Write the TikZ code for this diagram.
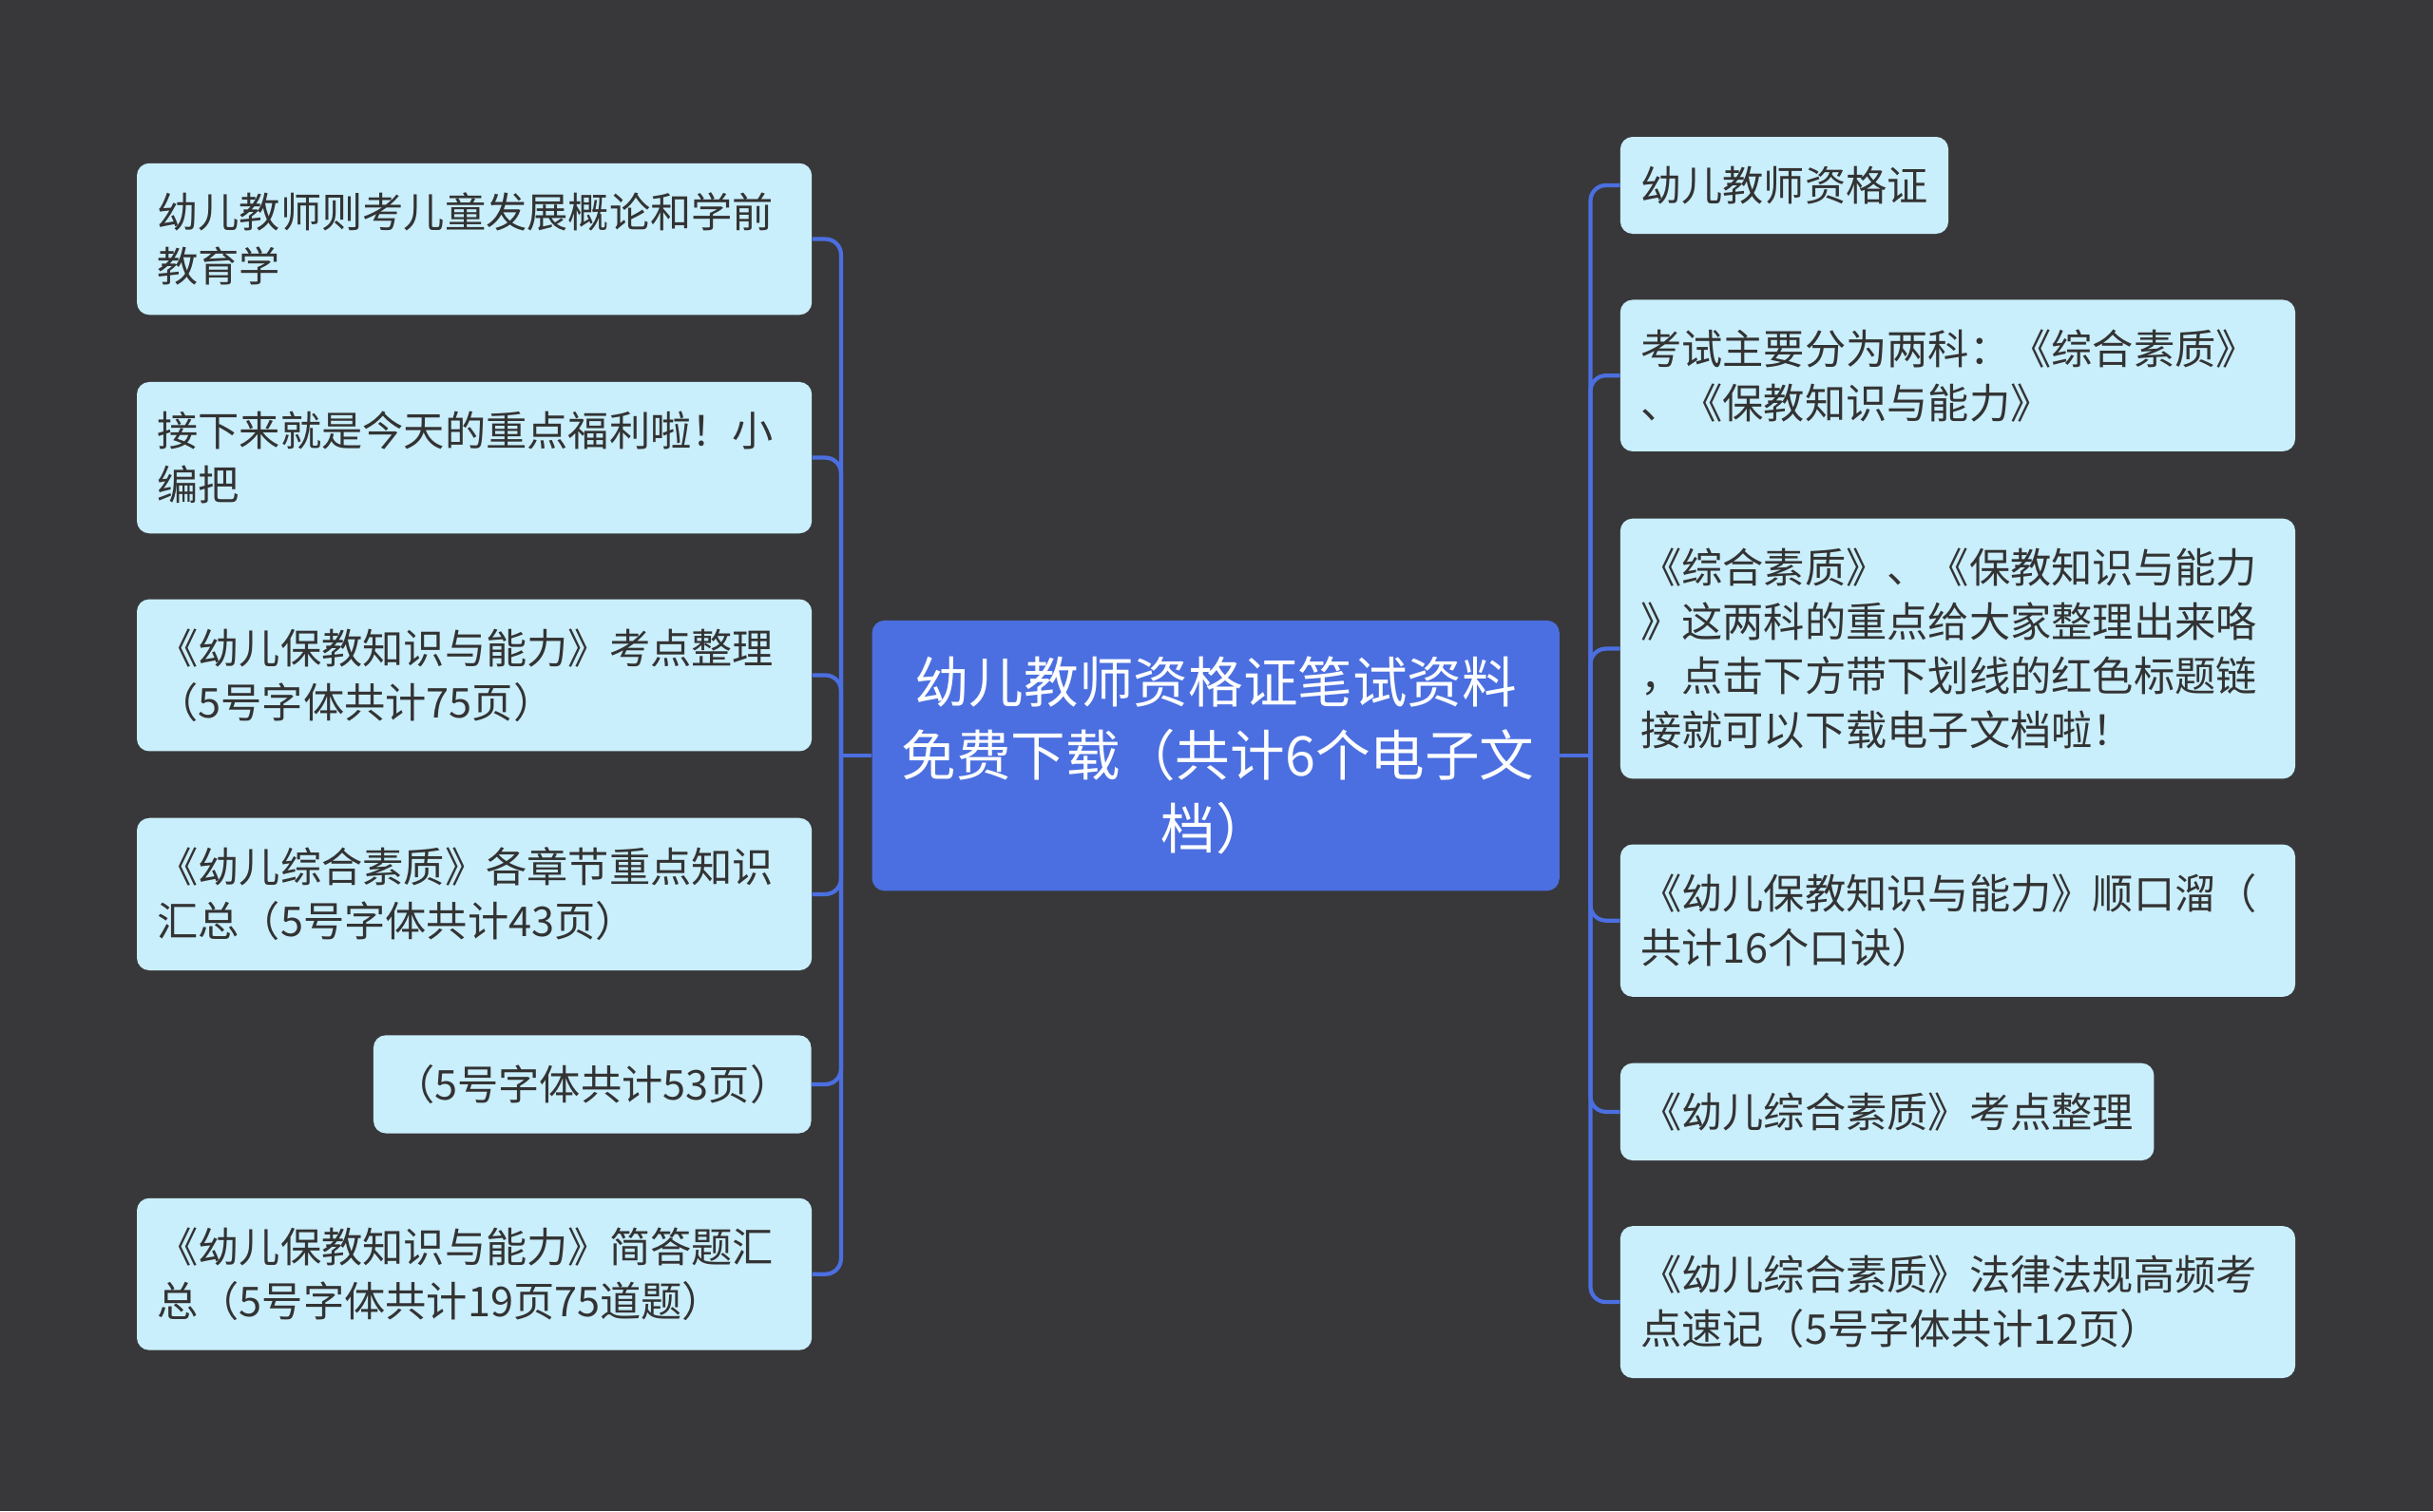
\documentclass[tikz,border=0pt]{standalone}
\usepackage{fontspec}
\setmainfont{Noto Sans CJK SC}
\usepackage{xcolor}
\usepackage{tikz}

\definecolor{bgdark}{HTML}{38383A}
\definecolor{rootblue}{HTML}{4B6FE0}
\definecolor{leafcyan}{HTML}{C9EEFC}
\definecolor{leaftext}{HTML}{333333}

\begin{document}
\begin{tikzpicture}[x=1pt, y=-1pt,
  root/.style={fill=rootblue, rounded corners=8pt, text=white, align=center,
               text width=405pt, inner xsep=19pt, inner ysep=23.5pt,
               font=\fontsize{35.3}{47}\selectfont},
  leaf/.style={fill=leafcyan, rounded corners=8pt, text=leaftext, align=left,
               inner xsep=13pt, inner ysep=19pt, anchor=north west,
               font=\fontsize{26.5}{35}\selectfont},
  wide/.style={text width=409pt},
  link/.style={draw=rootblue, line width=2.6pt, rounded corners=10pt}
]
  \fill[bgdark] (0,0) rectangle (1568,974);

  \node[root] (root) at (783.5,487) {幼儿教师资格证笔试资料\\免费下载（共计6个电子文\\档）};

  % left side
  \node[leaf, wide] (l1) at (88,105) {幼儿教师则考儿童发展概论和学前\\教育学};
  \node[leaf, wide] (l2) at (88,246) {接下来就是今天的重点福利啦！小\\编把};
  \node[leaf, wide] (l3) at (88,386) {《幼儿保教知识与能力》考点整理\\（5号字体共计75页）};
  \node[leaf, wide] (l4) at (88,527) {《幼儿综合素质》各章节重点知识\\汇总（5号字体共计43页）};
  \node[leaf, anchor=north east] (l5) at (523,667) {（5号字体共计53页）};
  \node[leaf, wide] (l6) at (88,772) {《幼儿保教知识与能力》简答题汇\\总（5号字体共计19页75道题）};

  % right side
  \node[leaf] (r1) at (1044,88) {幼儿教师资格证};
  \node[leaf, wide] (r2) at (1044,193) {考试主要分为两科：《综合素质》\\、《保教知识与能力》};
  \node[leaf, wide] (r3) at (1044,334) {《综合素质》、《保教知识与能力\\》这两科的重点给大家整理出来咯\\，点击下方带下划线的红色标题链\\接就可以下载电子文档啦！};
  \node[leaf, wide] (r4) at (1044,544) {《幼儿保教知识与能力》顺口溜（\\共计16个口诀）};
  \node[leaf] (r5) at (1044,685) {《幼儿综合素质》考点整理};
  \node[leaf, wide] (r6) at (1044,790) {《幼儿综合素质》法律法规高频考\\点速记（5号字体共计12页）};

  \coordinate (jl) at (542,487);
  \coordinate (jr) at (1025,487);

  \draw[link] (root.west) -- (jl);
  \draw[link] (jl) |- (l1.east);
  \draw[link] (jl) |- (l2.east);
  \draw[link] (jl) |- (l3.east);
  \draw[link] (jl) |- (l4.east);
  \draw[link] (jl) |- (l5.east);
  \draw[link] (jl) |- (l6.east);

  \draw[link] (root.east) -- (jr);
  \draw[link] (jr) |- (r1.west);
  \draw[link] (jr) |- (r2.west);
  \draw[link] (jr) |- (r3.west);
  \draw[link] (jr) |- (r4.west);
  \draw[link] (jr) |- (r5.west);
  \draw[link] (jr) |- (r6.west);
\end{tikzpicture}
\end{document}
